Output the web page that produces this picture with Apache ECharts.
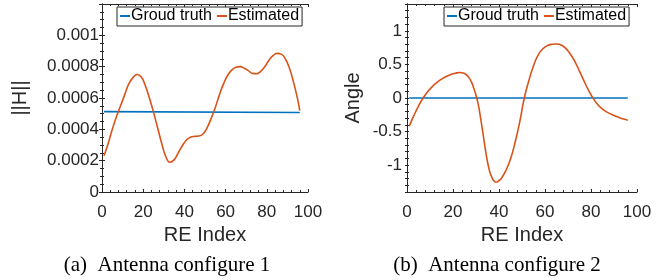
<!DOCTYPE html>
<html>
<head>
<meta charset="utf-8">
<script src="https://cdn.jsdelivr.net/npm/echarts@6/dist/echarts.min.js"></script>
<style>
  html, body { margin: 0; padding: 0; background: #fff; }
  #chart { width: 672px; height: 280px; }
</style>
</head>
<body>
<div id="chart"></div>
<script>
  // (a) ||H|| 估计值
  let magIdx = [1, 3, 5, 7, 9, 11, 13, 15, 17, 19, 21, 23, 25, 27, 29, 31, 33, 35, 37, 39, 41, 43, 45, 47, 49, 51, 53, 55, 57, 59, 61, 63, 65, 67, 69, 71, 73, 75, 77, 79, 81, 83, 85, 87, 89, 91, 93, 95, 96]
  let magEst = [0.000232, 0.00031, 0.0004, 0.00048, 0.00055, 0.00062, 0.00069, 0.00073, 0.00075, 0.000735, 0.00068, 0.0006, 0.00051, 0.00041, 0.00031, 0.000225, 0.00019, 0.000205, 0.00025, 0.000295, 0.000332, 0.00035, 0.000355, 0.000357, 0.00037, 0.00041, 0.00047, 0.00054, 0.00062, 0.00069, 0.000745, 0.000778, 0.000796, 0.0008, 0.00079, 0.000775, 0.000757, 0.000755, 0.00077, 0.0008, 0.00084, 0.00087, 0.000885, 0.00088, 0.00085, 0.00079, 0.0007, 0.00059, 0.00052]
  let magTruthIdx = [1, 96]
  let magTruth = [0.000513, 0.000507]

  // (b) Angle 估计值
  let angIdx = [1, 3, 5, 7, 9, 11, 13, 15, 17, 19, 21, 23, 25, 26, 27, 28, 29, 30, 31, 32, 33, 34, 35, 36, 37, 38, 39, 40, 41, 43, 45, 47, 49, 51, 53, 55, 57, 59, 61, 63, 65, 67, 69, 71, 73, 75, 77, 79, 81, 83, 85, 87, 89, 91, 93, 95, 96]
  let angEst = [-0.42, -0.26, -0.12, 0, 0.095, 0.17, 0.23, 0.28, 0.32, 0.35, 0.37, 0.38, 0.365, 0.34, 0.3, 0.24, 0.15, 0.04, -0.1, -0.3, -0.52, -0.75, -0.95, -1.1, -1.19, -1.24, -1.25, -1.23, -1.2, -1.08, -0.91, -0.66, -0.36, 0, 0.26, 0.48, 0.64, 0.73, 0.78, 0.8, 0.805, 0.79, 0.74, 0.655, 0.54, 0.4, 0.25, 0.11, -0.01, -0.1, -0.165, -0.21, -0.245, -0.275, -0.3, -0.32, -0.33]
  let angTruthIdx = [1, 96]
  let angTruth = [0, 0]

  let angTicks = [-1, -0.5, 0, 0.5, 1]

  let blue = '#0072BD'
  let orange = '#D95319'
  let ink = '#262626'
  let sans = 'Liberation Sans'

  function pairs(xs, ys) {
    return xs.map((x, i) => [x, ys[i]])
  }

  let chart = echarts.init(document.getElementById('chart'))

  let boxX = (grid, pos) => ({
    type: 'value',
    gridIndex: grid,
    position: pos,
    min: 0,
    max: 100,
    interval: 20,
    axisLine: { show: true, onZero: false, lineStyle: { color: ink, width: 1 } },
    axisTick: { show: true, inside: true, length: 3, lineStyle: { color: ink } },
    minorTick: { show: true, splitNumber: 5, length: 2, lineStyle: { color: ink } },
    axisLabel: pos === 'bottom'
      ? { show: true, color: ink, fontFamily: sans, fontSize: 17, margin: 12 }
      : { show: false },
    splitLine: { show: false },
    name: pos === 'bottom' ? 'RE Index' : '',
    nameLocation: 'middle',
    nameGap: 30,
    nameTextStyle: { color: ink, fontFamily: sans, fontSize: 20 }
  })

  let legendBase = {
    orient: 'horizontal',
    top: 7,
    padding: [1, 3, 2, 3],
    itemGap: 5,
    itemWidth: 10,
    itemHeight: 2,
    icon: 'rect',
    backgroundColor: '#fff',
    borderColor: ink,
    borderWidth: 1,
    borderRadius: 0,
    selectedMode: false,
    textStyle: { color: '#000', fontFamily: sans, fontSize: 16, padding: [0, 0, 0, -4] },
    data: ['Groud truth', 'Estimated']
  }

  let option = {
    animation: false,
    grid: [
      { left: 102, top: 4, width: 206, height: 188 },
      { left: 407, top: 4, width: 230, height: 188 }
    ],
    legend: [
      Object.assign({}, legendBase, { left: 117 }),
      Object.assign({}, legendBase, { left: 444 })
    ],
    xAxis: [
      boxX(0, 'bottom'),
      boxX(0, 'top'),
      boxX(1, 'bottom'),
      boxX(1, 'top')
    ],
    yAxis: [
      {
        type: 'value',
        gridIndex: 0,
        position: 'left',
        min: 0,
        max: 0.0012,
        interval: 0.0002,
        axisLine: { show: true, lineStyle: { color: ink } },
        axisTick: { show: true, inside: true, length: 3, lineStyle: { color: ink } },
        minorTick: { show: true, splitNumber: 4, length: 2, lineStyle: { color: ink } },
        axisLabel: {
          color: ink, fontFamily: sans, fontSize: 17, margin: 3,
          formatter: v => (v > 0.00111 ? '' : String(+v.toFixed(4)))
        },
        splitLine: { show: false },
        name: '||H||',
        nameLocation: 'middle',
        nameGap: 72,
        nameTextStyle: { color: ink, fontFamily: sans, fontSize: 20 }
      },
      {
        type: 'value',
        gridIndex: 0,
        position: 'right',
        min: 0,
        max: 0.0012,
        interval: 0.0002,
        axisLine: { show: true, lineStyle: { color: ink } },
        axisTick: { show: true, inside: true, length: 3, lineStyle: { color: ink } },
        minorTick: { show: true, splitNumber: 4, length: 2, lineStyle: { color: ink } },
        axisLabel: { show: false },
        splitLine: { show: false }
      },
      {
        type: 'value',
        gridIndex: 1,
        position: 'left',
        min: -1.4,
        max: 1.4,
        interval: 0.1,
        axisLine: { show: true, lineStyle: { color: ink } },
        axisTick: { show: true, inside: true, length: 2, lineStyle: { color: ink } },
        axisLabel: {
          color: ink, fontFamily: sans, fontSize: 17, margin: 5,
          customValues: angTicks
        },
        splitLine: { show: false },
        name: 'Angle',
        nameLocation: 'middle',
        nameGap: 44,
        nameTextStyle: { color: ink, fontFamily: sans, fontSize: 20 }
      },
      {
        type: 'value',
        gridIndex: 1,
        position: 'right',
        min: -1.4,
        max: 1.4,
        interval: 0.1,
        axisLine: { show: true, lineStyle: { color: ink } },
        axisTick: { show: true, inside: true, length: 2, lineStyle: { color: ink } },
        axisLabel: { show: false },
        splitLine: { show: false }
      }
    ],
    graphic: [
      {
        type: 'text', x: 167, y: 255,
        style: { text: '(a)  Antenna configure 1', fill: '#000', font: '21px "Liberation Serif"', align: 'center' }
      },
      {
        type: 'text', x: 497, y: 255,
        style: { text: '(b)  Antenna configure 2', fill: '#000', font: '21px "Liberation Serif"', align: 'center' }
      }
    ],
    series: [
      {
        name: 'Groud truth', type: 'line', xAxisIndex: 0, yAxisIndex: 0,
        symbol: 'none', color: blue, lineStyle: { width: 1.6 },
        data: pairs(magTruthIdx, magTruth)
      },
      {
        name: 'Estimated', type: 'line', xAxisIndex: 0, yAxisIndex: 0,
        symbol: 'none', smooth: 0.5, color: orange, lineStyle: { width: 1.6 },
        data: pairs(magIdx, magEst)
      },
      {
        name: 'Groud truth', type: 'line', xAxisIndex: 2, yAxisIndex: 2,
        symbol: 'none', color: blue, lineStyle: { width: 1.6 },
        data: pairs(angTruthIdx, angTruth)
      },
      {
        name: 'Estimated', type: 'line', xAxisIndex: 2, yAxisIndex: 2,
        symbol: 'none', smooth: 0.5, color: orange, lineStyle: { width: 1.6 },
        data: pairs(angIdx, angEst)
      }
    ]
  }
  chart.setOption(option)
</script>
</body>
</html>
